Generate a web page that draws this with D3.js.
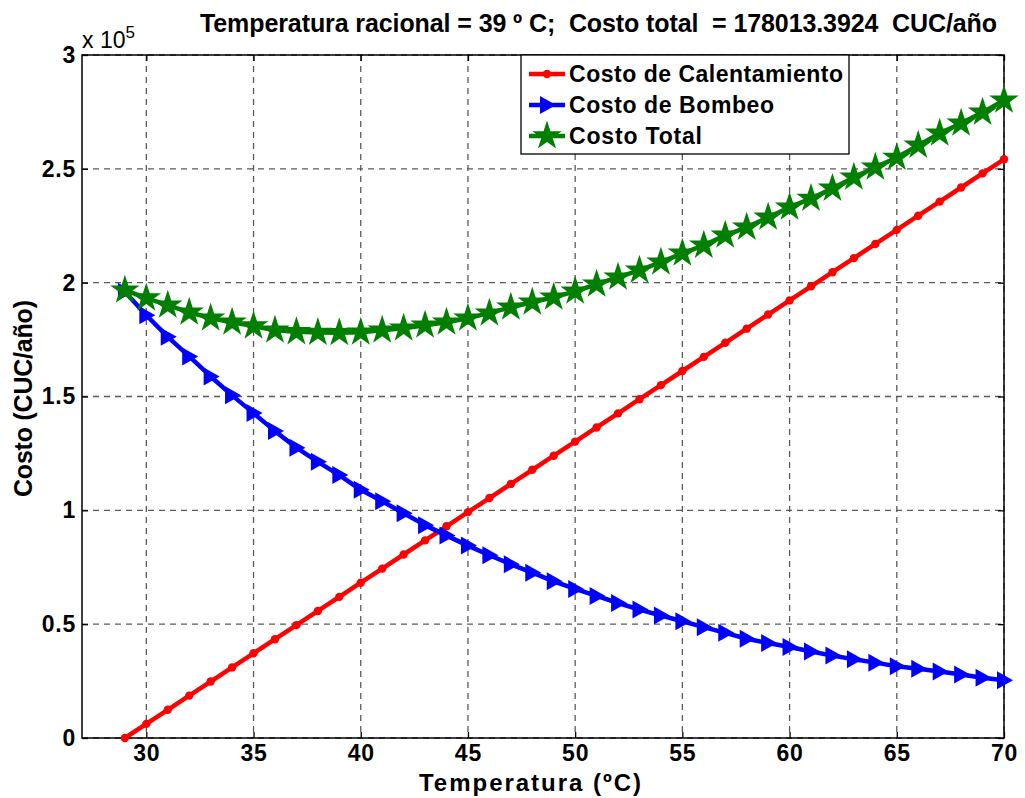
<!DOCTYPE html>
<html><head><meta charset="utf-8">
<script src="https://cdn.jsdelivr.net/npm/d3@7"></script>
<style>body{margin:0;background:#fff}svg{display:block}text{font-family:"Liberation Sans",Arial,sans-serif;font-weight:bold;fill:#000}</style>
</head><body><svg id="c" width="1025" height="798"></svg>
<script>
const temps = [29,30,31,32,33,34,35,36,37,38,39,40,41,42,43,44,45,46,47,48,49,50,51,52,53,54,55,56,57,58,59,60,61,62,63,64,65,66,67,68,69,70];
const calentamiento = [0,6.2,12.4,18.6,24.8,31.0,37.2,43.4,49.6,55.8,62.0,68.2,74.4,80.6,86.8,93.0,99.2,105.4,111.6,117.8,124.0,130.2,136.4,142.6,148.8,155.0,161.2,167.4,173.6,179.8,186.0,192.2,198.4,204.6,210.8,217.0,223.2,229.4,235.6,241.8,248.0,254.2].map(v=>v*1000);
const bombeo = [196.0,185.7,176.2,167.6,158.8,150.5,142.7,134.8,127.5,121.3,115.5,109.0,104.0,98.7,93.5,88.9,84.5,80.3,76.3,72.6,68.8,65.5,62.4,59.3,56.4,53.8,51.3,48.7,46.2,43.6,41.7,40.0,38.0,36.2,34.6,33.1,31.5,30.4,29.2,27.9,26.5,25.4].map(v=>v*1000);
const total = [196.7,193.2,190.1,187.0,184.4,182.6,180.9,179.1,178.4,178.1,178.0,178.2,179.1,180.0,181.3,182.6,184.4,186.6,189.2,191.4,193.6,196.2,199.3,202.4,205.4,209.0,212.9,216.4,220.8,224.3,228.7,233.1,237.0,241.4,246.3,250.7,255.0,260.3,265.6,270.0,274.8,280.1].map(v=>v*1000);
const xTicks = [30,35,40,45,50,55,60,65,70];
const yTicks = [0,50000,100000,150000,200000,250000,300000];
const yTickLabels = ["0","0.5","1","1.5","2","2.5","3"];
const seriesNames = ["Costo de Calentamiento","Costo de Bombeo","Costo Total"];
const colors = ["#ff0000","#0000ff","#007f00"];

const svg = d3.select("#c");
const L=82,R=1004,T=55,B=738;
const x = d3.scaleLinear().domain([27,70]).range([L,R]);
const y = d3.scaleLinear().domain([0,300000]).range([B,T]);

// grid
const g = svg.append("g");
g.selectAll(".gx").data(xTicks).enter().append("line")
 .attr("x1",d=>x(d)).attr("x2",d=>x(d)).attr("y1",T).attr("y2",B)
 .attr("stroke","#5a5a5a").attr("stroke-width",1.3).attr("stroke-dasharray","6,5");
g.selectAll(".gy").data(yTicks).enter().append("line")
 .attr("x1",L).attr("x2",R).attr("y1",d=>y(d)).attr("y2",d=>y(d))
 .attr("stroke","#5a5a5a").attr("stroke-width",1.3).attr("stroke-dasharray","6,5");

// axes
const ax = d3.axisBottom(x).tickValues(xTicks).tickSize(-6).tickPadding(7).tickFormat(d3.format("d"));
const axg = svg.append("g").attr("transform",`translate(0,${B})`).call(ax);
const ay = d3.axisLeft(y).tickValues(yTicks).tickSize(-6).tickPadding(6).tickFormat((d,i)=>yTickLabels[i]);
const ayg = svg.append("g").attr("transform",`translate(${L},0)`).call(ay);
const axt = svg.append("g").attr("transform",`translate(0,${T})`).call(d3.axisTop(x).tickValues(xTicks).tickSize(-6).tickFormat(""));
const ayr = svg.append("g").attr("transform",`translate(${R},0)`).call(d3.axisRight(y).tickValues(yTicks).tickSize(-6).tickFormat(""));
[axg,ayg,axt,ayr].forEach(a=>{a.select(".domain").remove();a.selectAll("line").attr("stroke","#000").attr("stroke-width",1.3);a.selectAll("text").style("font-size","23px").style("font-family","Liberation Sans, Arial, sans-serif").style("font-weight","bold").style("letter-spacing","0.8px");});
svg.append("rect").attr("x",L).attr("y",T).attr("width",R-L).attr("height",B-T).attr("fill","none").attr("stroke","#000").attr("stroke-width",1.5);

// series
const data = [calentamiento,bombeo,total];
const line = d3.line().x((d,i)=>x(temps[i])).y(d=>y(d));
const star = d3.symbol().type(d3.symbolStar).size(270);
const tri = "M-7,-9L9,0L-7,9Z";
function marker(sel,k){
  if(k===0) sel.append("circle").attr("r",4.2).attr("fill",colors[0]);
  else if(k===1) sel.append("path").attr("d",tri).attr("fill",colors[1]);
  else sel.append("path").attr("d",star()).attr("fill",colors[2]);
}
data.forEach((s,k)=>{
  svg.append("path").attr("d",line(s)).attr("fill","none").attr("stroke",colors[k]).attr("stroke-width",4.5).attr("stroke-linejoin","round");
  s.forEach((v,i)=>{
    const m = svg.append("g").attr("transform",`translate(${x(temps[i])},${y(v)})`);
    marker(m,k);
  });
});

// legend
const lg = svg.append("g");
lg.append("rect").attr("x",521).attr("y",55).attr("width",328).attr("height",99).attr("fill","#fff").attr("stroke","#000").attr("stroke-width",1.3);
seriesNames.forEach((n,k)=>{
  const yy = 74 + k*31;
  lg.append("line").attr("x1",529).attr("x2",565).attr("y1",yy).attr("y2",yy).attr("stroke",colors[k]).attr("stroke-width",4.5);
  marker(lg.append("g").attr("transform",`translate(547,${yy})`),k);
  const t = lg.append("text").attr("x",569).attr("y",yy+8).style("font-size","23px").text(n);
  const w = [274,205,133][k];
  t.attr("textLength",w).attr("lengthAdjust","spacing");
});

// labels
svg.append("text").attr("x",200).attr("y",32).attr("xml:space","preserve").style("white-space","pre").style("font-size","25px")
 .attr("textLength",797).attr("lengthAdjust","spacing")
 .text("Temperatura racional = 39 º C;  Costo total  = 178013.3924  CUC/año");
const ex = svg.append("text").attr("x",82).attr("y",48).style("font-size","23px").style("font-weight","normal");
ex.append("tspan").text("x 10");
ex.append("tspan").attr("dy",-10).style("font-size","17px").text("5");
svg.append("text").attr("x",419).attr("y",791).style("font-size","24px").attr("textLength",222).attr("lengthAdjust","spacing").text("Temperatura (ºC)");
svg.append("text").attr("transform","translate(32,497) rotate(-90)").style("font-size","25px").attr("textLength",197).attr("lengthAdjust","spacing").text("Costo (CUC/año)");
</script></body></html>
